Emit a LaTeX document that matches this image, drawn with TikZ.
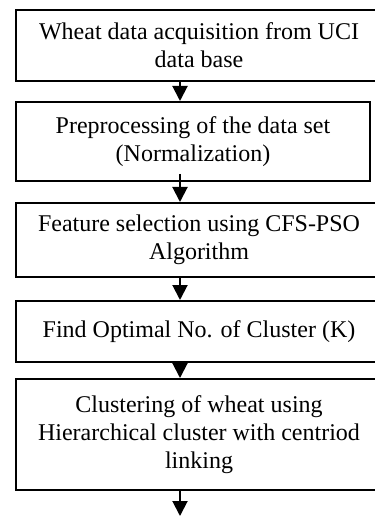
\documentclass[tikz,border=0pt]{standalone}
\usepackage{fontspec}
\setmainfont{Liberation Serif}
\usetikzlibrary{arrows.meta}
\tikzset{
  stage/.style={draw, line width=1pt, align=center, inner sep=0pt,
    font=\fontsize{12}{14}\selectfont},
  flow/.style={-{Triangle[width=7.5pt,length=7.5pt]}, line width=1pt}
}
\begin{document}
\begin{tikzpicture}[x=0.5pt,y=-0.5pt]
  \useasboundingbox (0,0) rectangle (374,517);
  % process boxes
  \node[stage, minimum width=183pt, minimum height=35.5pt] (acq) at (199,45.5)
    {Wheat data acquisition from UCI\\data base};
  \node[stage, minimum width=177pt, minimum height=39.5pt] (prep) at (193,141.5)
    {Preprocessing of the data set\\(Normalization)};
  \node[stage, minimum width=183pt, minimum height=37pt] (feat) at (199,240)
    {Feature selection using CFS-PSO\\Algorithm};
  \node[stage, minimum width=183pt, minimum height=30.5pt] (optk) at (199,331.5)
    {Find Optimal No. of Cluster (K)};
  \node[stage, minimum width=183pt, minimum height=55.5pt] (clust) at (199,434.5)
    {Clustering of wheat using\\Hierarchical cluster with centriod\\linking};
  % arrows run down a common line
  \coordinate (ax) at (180,0);
  \coordinate (out) at (180,516);
  \draw[flow] (acq.south -| ax) -- (prep.north -| ax);
  \draw[flow] ([yshift=4pt]prep.south -| ax) -- (feat.north -| ax);
  \draw[flow] (feat.south -| ax) -- (optk.north -| ax);
  \draw[flow] (optk.south -| ax) -- (clust.north -| ax);
  \draw[flow] (clust.south -| ax) -- (out);
\end{tikzpicture}
\end{document}
